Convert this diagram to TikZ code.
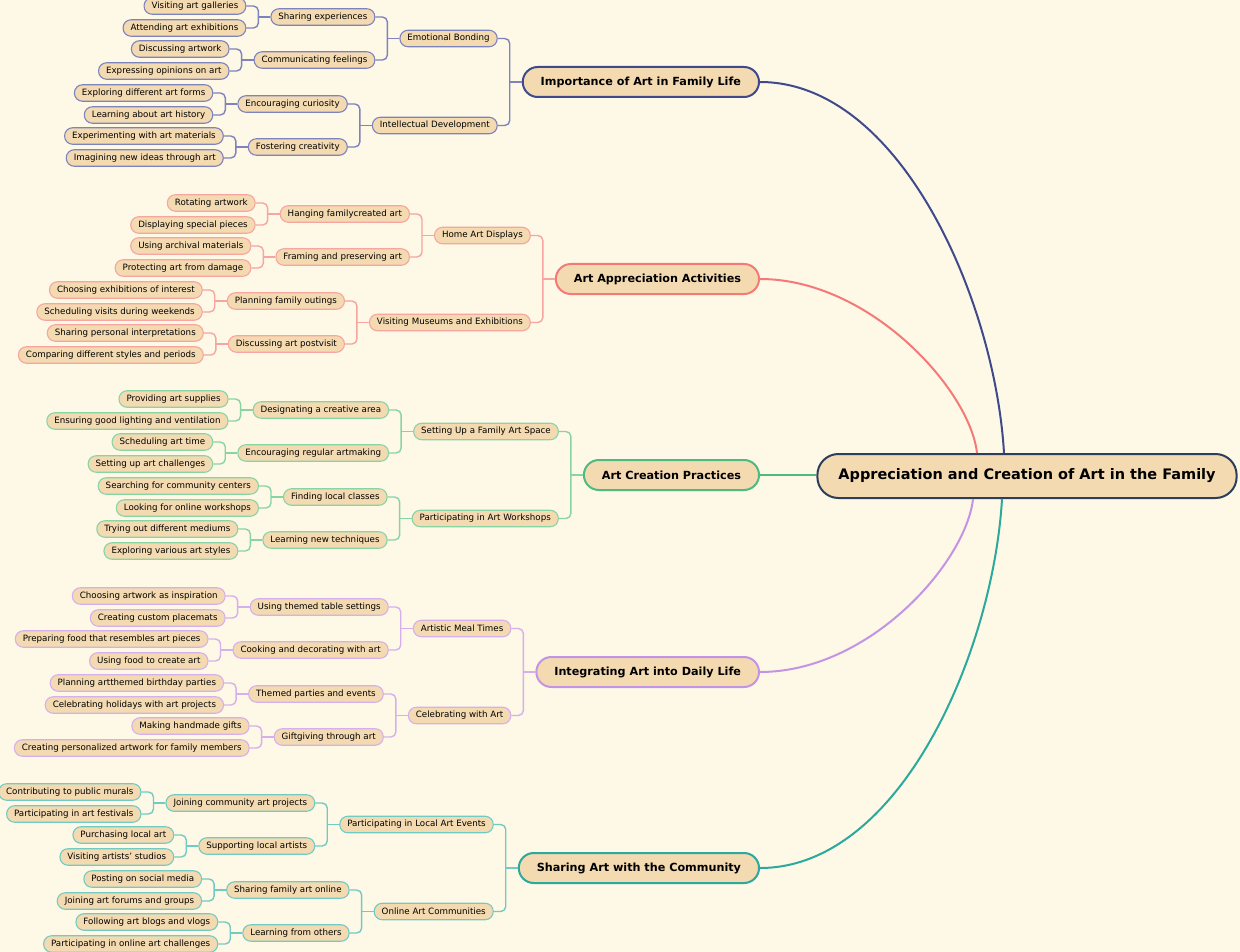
\documentclass[tikz,border=0pt]{standalone}
\usepackage{fontspec}
\setmainfont{DejaVu Sans}
\usetikzlibrary{positioning}

\definecolor{bgc}{HTML}{FEF8E7}
\definecolor{nodefill}{HTML}{F4DAB1}
\definecolor{rootc}{HTML}{2B3F5C}
\definecolor{cnavy}{HTML}{3F4A8C}
\definecolor{cnavyl}{HTML}{7D83BB}
\definecolor{cpink}{HTML}{F47A78}
\definecolor{cpinkl}{HTML}{F6A5A0}
\definecolor{cgreen}{HTML}{4DBB80}
\definecolor{cgreenl}{HTML}{88D4A5}
\definecolor{cpurp}{HTML}{C494E4}
\definecolor{cpurpl}{HTML}{D6B0EC}
\definecolor{cteal}{HTML}{2AA99C}
\definecolor{cteall}{HTML}{72CBC2}

\tikzset{
  rootbox/.style={draw=rootc, line width=2pt, fill=nodefill, rounded corners=21pt,
    minimum height=44pt, inner xsep=21pt, font=\fontsize{14.5}{17}\bfseries},
  topic/.style={draw=#1, line width=2pt, fill=nodefill, rounded corners=15pt,
    minimum height=30pt, inner xsep=18pt, anchor=east, font=\fontsize{11.2}{13}\bfseries},
  item/.style={draw=#1, line width=1.1pt, fill=nodefill, rounded corners=8pt,
    minimum height=16.5pt, inner ysep=0pt, inner xsep=7.5pt, anchor=east,
    font=\fontsize{8.7}{10}\selectfont},
  curve/.style={draw=#1, line width=2pt},
  link/.style={draw=#1, line width=1.4pt}
}

% parent, upper child, lower child joined by a bracket
\newcommand{\branch}[4]{%
  \path (#3.east) ++(12pt,0) coordinate (#2j);
  \draw[link=#1] (#2.west) -- (#2j |- #2.west);
  \draw[link=#1, rounded corners=5pt] (#3.east) -| (#2j |- #2.west) |- (#4.east);
}

\begin{document}
\begin{tikzpicture}[x=1pt, y=-1pt]

\fill[bgc] (0,0) rectangle (1240,952);
\useasboundingbox (0,0) rectangle (1240,952);

\node[rootbox] (root) at (1027,476) {Appreciation and Creation of Art in the Family};

% main topics
\node[topic=cnavy] (imp) at (760,82) {Importance of Art in Family Life};
\node[topic=cpink] (appr) at (760,279) {Art Appreciation Activities};
\node[topic=cgreen] (crea) at (760,475) {Art Creation Practices};
\node[topic=cpurp] (integ) at (760,672) {Integrating Art into Daily Life};
\node[topic=cteal] (share) at (760,868) {Sharing Art with the Community};

\coordinate (rimp) at ([xshift=-23pt]root.north);
\coordinate (rappr) at ([xshift=-50pt]root.north);
\coordinate (rinteg) at ([xshift=-54pt]root.south);
\coordinate (rshare) at ([xshift=-25pt]root.south);

\draw[curve=cnavy] (imp.east) .. controls +(140,0) and +(-9,-153) .. (rimp);
\draw[curve=cpink] (appr.east) .. controls +(110,0) and +(-7,-63) .. (rappr);
\draw[curve=cgreen] (crea.east) -- (crea.east -| root.west);
\draw[curve=cpurp] (integ.east) .. controls +(110,0) and +(-7,63) .. (rinteg);
\draw[curve=cteal] (share.east) .. controls +(140,0) and +(-9,153) .. (rshare);

% Importance of Art in Family Life
\node[item=cnavyl, left=24pt of imp, yshift=43.5pt] (ebond) {Emotional Bonding};
\node[item=cnavyl, left=24pt of imp, yshift=-43.5pt] (idev) {Intellectual Development};
\node[item=cnavyl, left=24pt of ebond, yshift=21.5pt] (shexp) {Sharing experiences};
\node[item=cnavyl, left=24pt of ebond, yshift=-21.5pt] (comfeel) {Communicating feelings};
\node[item=cnavyl, left=24pt of idev, yshift=21.5pt] (curio) {Encouraging curiosity};
\node[item=cnavyl, left=24pt of idev, yshift=-21.5pt] (fostcr) {Fostering creativity};
\node[item=cnavyl, left=24pt of shexp, yshift=11pt] (galler) {Visiting art galleries};
\node[item=cnavyl, left=24pt of shexp, yshift=-11pt] (exhib) {Attending art exhibitions};
\node[item=cnavyl, left=24pt of comfeel, yshift=11pt] (discw) {Discussing artwork};
\node[item=cnavyl, left=24pt of comfeel, yshift=-11pt] (opin) {Expressing opinions on art};
\node[item=cnavyl, left=24pt of curio, yshift=11pt] (forms) {Exploring different art forms};
\node[item=cnavyl, left=24pt of curio, yshift=-11pt] (hist) {Learning about art history};
\node[item=cnavyl, left=24pt of fostcr, yshift=11pt] (mater) {Experimenting with art materials};
\node[item=cnavyl, left=24pt of fostcr, yshift=-11pt] (ideas) {Imagining new ideas through art};

\branch{cnavyl}{imp}{ebond}{idev}
\branch{cnavyl}{ebond}{shexp}{comfeel}
\branch{cnavyl}{idev}{curio}{fostcr}
\branch{cnavyl}{shexp}{galler}{exhib}
\branch{cnavyl}{comfeel}{discw}{opin}
\branch{cnavyl}{curio}{forms}{hist}
\branch{cnavyl}{fostcr}{mater}{ideas}

% Art Appreciation Activities
\node[item=cpinkl, left=24pt of appr, yshift=43.5pt] (hdisp) {Home Art Displays};
\node[item=cpinkl, left=24pt of appr, yshift=-43.5pt] (vmus) {Visiting Museums and Exhibitions};
\node[item=cpinkl, left=24pt of hdisp, yshift=21.5pt] (hang) {Hanging familycreated art};
\node[item=cpinkl, left=24pt of hdisp, yshift=-21.5pt] (frame) {Framing and preserving art};
\node[item=cpinkl, left=24pt of vmus, yshift=21.5pt] (outing) {Planning family outings};
\node[item=cpinkl, left=24pt of vmus, yshift=-21.5pt] (postv) {Discussing art postvisit};
\node[item=cpinkl, left=24pt of hang, yshift=11pt] (rotat) {Rotating artwork};
\node[item=cpinkl, left=24pt of hang, yshift=-11pt] (special) {Displaying special pieces};
\node[item=cpinkl, left=24pt of frame, yshift=11pt] (archiv) {Using archival materials};
\node[item=cpinkl, left=24pt of frame, yshift=-11pt] (protect) {Protecting art from damage};
\node[item=cpinkl, left=24pt of outing, yshift=11pt] (choose) {Choosing exhibitions of interest};
\node[item=cpinkl, left=24pt of outing, yshift=-11pt] (weekend) {Scheduling visits during weekends};
\node[item=cpinkl, left=24pt of postv, yshift=11pt] (interp) {Sharing personal interpretations};
\node[item=cpinkl, left=24pt of postv, yshift=-11pt] (styles) {Comparing different styles and periods};

\branch{cpinkl}{appr}{hdisp}{vmus}
\branch{cpinkl}{hdisp}{hang}{frame}
\branch{cpinkl}{vmus}{outing}{postv}
\branch{cpinkl}{hang}{rotat}{special}
\branch{cpinkl}{frame}{archiv}{protect}
\branch{cpinkl}{outing}{choose}{weekend}
\branch{cpinkl}{postv}{interp}{styles}

% Art Creation Practices
\node[item=cgreenl, left=24pt of crea, yshift=43.5pt] (space) {Setting Up a Family Art Space};
\node[item=cgreenl, left=24pt of crea, yshift=-43.5pt] (wshop) {Participating in Art Workshops};
\node[item=cgreenl, left=24pt of space, yshift=21.5pt] (area) {Designating a creative area};
\node[item=cgreenl, left=24pt of space, yshift=-21.5pt] (regul) {Encouraging regular artmaking};
\node[item=cgreenl, left=24pt of wshop, yshift=21.5pt] (classes) {Finding local classes};
\node[item=cgreenl, left=24pt of wshop, yshift=-21.5pt] (techn) {Learning new techniques};
\node[item=cgreenl, left=24pt of area, yshift=11pt] (suppl) {Providing art supplies};
\node[item=cgreenl, left=24pt of area, yshift=-11pt] (light) {Ensuring good lighting and ventilation};
\node[item=cgreenl, left=24pt of regul, yshift=11pt] (atime) {Scheduling art time};
\node[item=cgreenl, left=24pt of regul, yshift=-11pt] (chall) {Setting up art challenges};
\node[item=cgreenl, left=24pt of classes, yshift=11pt] (centers) {Searching for community centers};
\node[item=cgreenl, left=24pt of classes, yshift=-11pt] (onlinew) {Looking for online workshops};
\node[item=cgreenl, left=24pt of techn, yshift=11pt] (medium) {Trying out different mediums};
\node[item=cgreenl, left=24pt of techn, yshift=-11pt] (various) {Exploring various art styles};

\branch{cgreenl}{crea}{space}{wshop}
\branch{cgreenl}{space}{area}{regul}
\branch{cgreenl}{wshop}{classes}{techn}
\branch{cgreenl}{area}{suppl}{light}
\branch{cgreenl}{regul}{atime}{chall}
\branch{cgreenl}{classes}{centers}{onlinew}
\branch{cgreenl}{techn}{medium}{various}

% Integrating Art into Daily Life
\node[item=cpurpl, left=24pt of integ, yshift=43.5pt] (meal) {Artistic Meal Times};
\node[item=cpurpl, left=24pt of integ, yshift=-43.5pt] (celeb) {Celebrating with Art};
\node[item=cpurpl, left=24pt of meal, yshift=21.5pt] (table) {Using themed table settings};
\node[item=cpurpl, left=24pt of meal, yshift=-21.5pt] (cook) {Cooking and decorating with art};
\node[item=cpurpl, left=24pt of celeb, yshift=21.5pt] (parties) {Themed parties and events};
\node[item=cpurpl, left=24pt of celeb, yshift=-21.5pt] (gifts) {Giftgiving through art};
\node[item=cpurpl, left=24pt of table, yshift=11pt] (inspir) {Choosing artwork as inspiration};
\node[item=cpurpl, left=24pt of table, yshift=-11pt] (placem) {Creating custom placemats};
\node[item=cpurpl, left=24pt of cook, yshift=11pt] (resemb) {Preparing food that resembles art pieces};
\node[item=cpurpl, left=24pt of cook, yshift=-11pt] (food) {Using food to create art};
\node[item=cpurpl, left=24pt of parties, yshift=11pt] (bday) {Planning artthemed birthday parties};
\node[item=cpurpl, left=24pt of parties, yshift=-11pt] (holid) {Celebrating holidays with art projects};
\node[item=cpurpl, left=24pt of gifts, yshift=11pt] (handm) {Making handmade gifts};
\node[item=cpurpl, left=24pt of gifts, yshift=-11pt] (person) {Creating personalized artwork for family members};

\branch{cpurpl}{integ}{meal}{celeb}
\branch{cpurpl}{meal}{table}{cook}
\branch{cpurpl}{celeb}{parties}{gifts}
\branch{cpurpl}{table}{inspir}{placem}
\branch{cpurpl}{cook}{resemb}{food}
\branch{cpurpl}{parties}{bday}{holid}
\branch{cpurpl}{gifts}{handm}{person}

% Sharing Art with the Community
\node[item=cteall, left=24pt of share, yshift=43.5pt] (events) {Participating in Local Art Events};
\node[item=cteall, left=24pt of share, yshift=-43.5pt] (commun) {Online Art Communities};
\node[item=cteall, left=24pt of events, yshift=21.5pt] (projs) {Joining community art projects};
\node[item=cteall, left=24pt of events, yshift=-21.5pt] (artists) {Supporting local artists};
\node[item=cteall, left=24pt of commun, yshift=21.5pt] (famonl) {Sharing family art online};
\node[item=cteall, left=24pt of commun, yshift=-21.5pt] (others) {Learning from others};
\node[item=cteall, left=24pt of projs, yshift=11pt] (murals) {Contributing to public murals};
\node[item=cteall, left=24pt of projs, yshift=-11pt] (fest) {Participating in art festivals};
\node[item=cteall, left=24pt of artists, yshift=11pt] (purch) {Purchasing local art};
\node[item=cteall, left=24pt of artists, yshift=-11pt] (studio) {Visiting artists' studios};
\node[item=cteall, left=24pt of famonl, yshift=11pt] (social) {Posting on social media};
\node[item=cteall, left=24pt of famonl, yshift=-11pt] (forums) {Joining art forums and groups};
\node[item=cteall, left=24pt of others, yshift=11pt] (blogs) {Following art blogs and vlogs};
\node[item=cteall, left=24pt of others, yshift=-11pt] (onchal) {Participating in online art challenges};

\branch{cteall}{share}{events}{commun}
\branch{cteall}{events}{projs}{artists}
\branch{cteall}{commun}{famonl}{others}
\branch{cteall}{projs}{murals}{fest}
\branch{cteall}{artists}{purch}{studio}
\branch{cteall}{famonl}{social}{forums}
\branch{cteall}{others}{blogs}{onchal}

\end{tikzpicture}
\end{document}
